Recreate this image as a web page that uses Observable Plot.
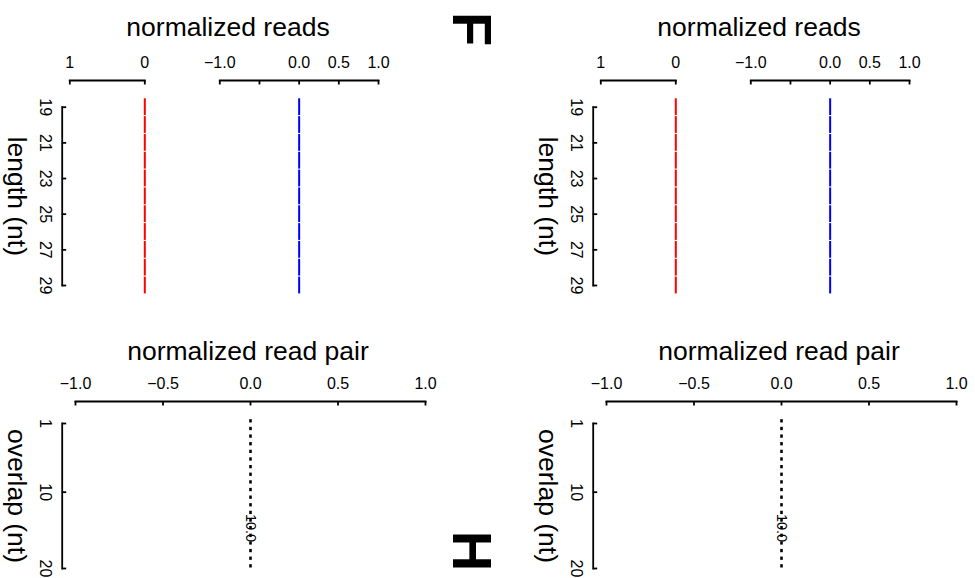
<!DOCTYPE html>
<html>
<head>
<meta charset="utf-8">
<script src="https://cdn.jsdelivr.net/npm/d3@7"></script>
<script src="https://cdn.jsdelivr.net/npm/@observablehq/plot@0.6"></script>
<style>
  html, body { margin: 0; padding: 0; background: white; }
  #chart { position: relative; width: 975px; height: 578px; overflow: hidden; font-family: "Liberation Sans", Arial, sans-serif; }
  .lbl { position: absolute; white-space: nowrap; line-height: 1; color: black; }
</style>
</head>
<body>
<div id="chart"></div>
<script>
// ---------------- data ----------------
const lengths = [19, 20, 21, 22, 23, 24, 25, 26, 27, 28, 29];
const senseReads = [0, 0, 0, 0, 0, 0, 0, 0, 0, 0, 0];       // red bars (axis 1 -> 0)
const antisenseReads = [0, 0, 0, 0, 0, 0, 0, 0, 0, 0, 0];   // blue bars (axis -1 -> 1)
const overlaps = [1, 2, 3, 4, 5, 6, 7, 8, 9, 10, 11, 12, 13, 14, 15, 16, 17, 18, 19, 20];
const pairValues = [0, 0, 0, 0, 0, 0, 0, 0, 0, 0, 0, 0, 0, 0, 0, 0, 0, 0, 0, 0];
const senseTicks = [1, 0];
const senseTickLabels = [1, 0];
const readTicks = [-1, -0.5, 0, 0.5, 1];
const readTickLabels = [-1, 0, 0.5, 1];
const lengthTicks = [19, 21, 23, 25, 27, 29];
const overlapTicks = [1, 10, 20];
const pairTicks = [-1, -0.5, 0, 0.5, 1];
const pairNote = [{value: 0, overlap: 14.7, text: "10.0"}];
const readsTitle = "normalized reads";
const pairTitle = "normalized read pair";
const lengthLabel = "length (nt)";
const overlapLabel = "overlap (nt)";
const panelLetters = ["F", "H"];

// ---------------- tables ----------------
const senseRows = lengths.map((l, i) => ({len: l, v: senseReads[i], y1: l - 0.5, y2: l + 0.5}));
const antiRows = lengths.map((l, i) => ({len: l, v: antisenseReads[i], y1: l - 0.5, y2: l + 0.5}));
const pairRows = overlaps.map((o, i) => ({o, v: pairValues[i], y1: o - 0.5, y2: o + 0.5}));

// ---------------- layout ----------------
const W = 975, H = 578;
const FONT = '"Liberation Sans", Arial, sans-serif';
const chart = document.getElementById("chart");
const fmt1 = d3.format(".1f");
const AXW = 1.8;
const TICKFS = 16;

function sub({L, R, T, B, x, y, marks}) {
  const svg = Plot.plot({
    width: W, height: H,
    marginLeft: L, marginRight: W - R, marginTop: T, marginBottom: H - B,
    x: {...(x || {}), axis: null},
    y: {...(y || {}), axis: null},
    style: {background: "transparent", position: "absolute", left: "0px", top: "0px",
            fontFamily: FONT, fontSize: TICKFS + "px", overflow: "visible", maxWidth: "none"},
    marks
  });
  chart.appendChild(svg);
}

function label(text, cx, cy, size, extra = "", bold = false) {
  const d = document.createElement("div");
  d.className = "lbl";
  d.textContent = text;
  d.style.left = cx + "px";
  d.style.top = cy + "px";
  d.style.fontSize = size + "px";
  if (bold) d.style.fontWeight = "bold";
  d.style.transform = "translate(-50%, -50%)" + extra;
  chart.appendChild(d);
}

function yAxis(ox, T, B, domain, ticks, text) {
  sub({
    L: 61.7 + ox, R: 66.2 + ox, T, B,
    y: {domain, reverse: true},
    marks: [
      Plot.frame({anchor: "left", strokeWidth: AXW}),
      Plot.tickY(ticks, {y: d => d, strokeWidth: AXW}),
      Plot.text(ticks, {y: d => d, text: d => String(d), frameAnchor: "left", dx: -17, rotate: 90,
                        textAnchor: "middle", lineAnchor: "middle", fontSize: TICKFS}),
      Plot.text([text], {text: d => d, frameAnchor: "left", dx: -46, rotate: 90,
                         textAnchor: "middle", lineAnchor: "middle", fontSize: 26.5})
    ]
  });
}

for (const ox of [0, 531]) {
  // top: sense reads (reversed axis 1 -> 0)
  sub({
    L: 69.3 + ox, R: 144.3 + ox, T: 80, B: 84.5,
    x: {domain: [1, 0]},
    y: {domain: [19, 29], range: [106.7, 285]},
    marks: [
      Plot.frame({anchor: "top", strokeWidth: AXW}),
      Plot.tickX(senseTicks, {x: d => d, strokeWidth: AXW}),
      Plot.axisX(senseTickLabels, {anchor: "top", tickSize: 0, tickPadding: 13, fontSize: TICKFS, label: null, tickFormat: d => String(d)}),
      Plot.ruleX(senseRows, {x: "v", y1: "y1", y2: "y2", stroke: "#ff0000", strokeWidth: 2, insetTop: 0.5, insetBottom: 0.5})
    ]
  });
  // top: antisense reads (-1 -> 1)
  sub({
    L: 219.3 + ox, R: 378 + ox, T: 80, B: 84.5,
    x: {domain: [-1, 1]},
    y: {domain: [19, 29], range: [106.7, 285]},
    marks: [
      Plot.frame({anchor: "top", strokeWidth: AXW}),
      Plot.tickX(readTicks, {x: d => d, strokeWidth: AXW}),
      Plot.axisX(readTickLabels, {anchor: "top", tickSize: 0, tickPadding: 13, fontSize: TICKFS, label: null, tickFormat: fmt1}),
      Plot.ruleX(antiRows, {x: "v", y1: "y1", y2: "y2", stroke: "#0000ff", strokeWidth: 2, insetTop: 0.5, insetBottom: 0.5})
    ]
  });
  yAxis(ox, 106.7, 285, [19, 29], lengthTicks, lengthLabel);

  // bottom: read pairs
  sub({
    L: 75 + ox, R: 425 + ox, T: 401, B: 405.5,
    x: {domain: [-1, 1]},
    y: {domain: [1, 20], range: [423, 568]},
    marks: [
      Plot.frame({anchor: "top", strokeWidth: AXW}),
      Plot.tickX(pairTicks, {x: d => d, strokeWidth: AXW}),
      Plot.axisX(pairTicks, {anchor: "top", tickSize: 0, tickPadding: 13, fontSize: TICKFS, label: null, tickFormat: fmt1}),
      Plot.ruleX(pairRows, {x: "v", y1: "y1", y2: "y2", stroke: "black", strokeWidth: 2.6, strokeDasharray: "3.3,4.4"}),
      Plot.text(pairNote, {x: "value", y: "overlap", text: "text", rotate: 90, fontSize: 14.5})
    ]
  });
  yAxis(ox, 423, 568, [1, 20], overlapTicks, overlapLabel);

  label(readsTitle, 228 + ox, 27, 26.5);
  label(pairTitle, 248 + ox, 351, 26.5);
}

label(panelLetters[0], 472, 29, 56, " rotate(90deg)", true);
label(panelLetters[1], 472, 551, 56, " rotate(90deg)", true);
</script>
</body>
</html>
